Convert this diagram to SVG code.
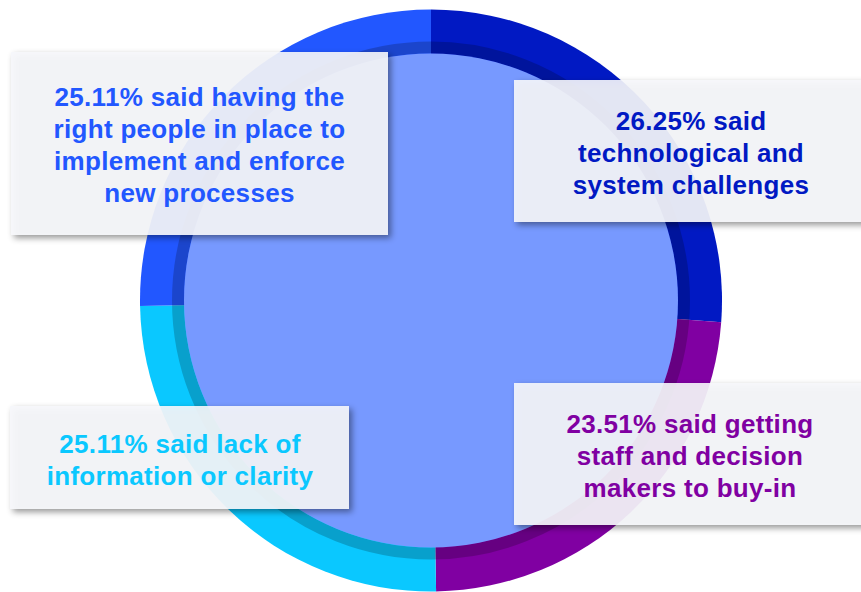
<svg xmlns="http://www.w3.org/2000/svg" width="861" height="592" viewBox="0 0 861 592">
  <defs>
    <filter id="shadow" x="-10%" y="-10%" width="125%" height="130%">
      <feDropShadow dx="3" dy="3" stdDeviation="3" flood-color="#000" flood-opacity="0.45"/>
    </filter>
    <style>
      .box { fill: #F6F7FB; fill-opacity: 0.9; filter: url(#shadow); }
      .lbl { font-family: "Liberation Sans", Arial, sans-serif; font-weight: bold; font-size: 26px; letter-spacing: 0.3px; text-anchor: middle; }
    </style>
  </defs>
  <rect width="861" height="592" fill="#FFFFFF"/>
  <g id="ring">
    <path d="M431 300.5 L431 9.5 A291 291 0 0 1 721.2 322.3 Z" fill="#0119C3"/>
    <path d="M431 300.5 L721.2 322.3 A291 291 0 0 1 436.1 591.5 Z" fill="#8000A2"/>
    <path d="M431 300.5 L436.1 591.5 A291 291 0 0 1 140.05 306.1 Z" fill="#0AC8FF"/>
    <path d="M431 300.5 L140.05 306.1 A291 291 0 0 1 431 9.5 Z" fill="#2257FF"/>
    <circle cx="431" cy="300.5" r="253" fill="none" stroke="#000" stroke-opacity="0.2" stroke-width="12"/>
    <circle cx="431" cy="300.5" r="247" fill="#7799FF"/>
  </g>
  <g id="node-people">
    <rect class="box" x="11" y="52" width="377" height="183"/>
    <text class="lbl" fill="#2257FF"><tspan x="199.5" y="106">25.11% said having the</tspan><tspan x="199.5" y="138">right people in place to</tspan><tspan x="199.5" y="170">implement and enforce</tspan><tspan x="199.5" y="202">new processes</tspan></text>
  </g>
  <g id="node-tech">
    <rect class="box" x="514" y="80" width="352" height="142"/>
    <text class="lbl" fill="#0119C3"><tspan x="691" y="130">26.25% said</tspan><tspan x="691" y="162">technological and</tspan><tspan x="691" y="194">system challenges</tspan></text>
  </g>
  <g id="node-info">
    <rect class="box" x="10" y="406" width="339" height="103"/>
    <text class="lbl" fill="#0AC8FF"><tspan x="180" y="453">25.11% said lack of</tspan><tspan x="180" y="485">information or clarity</tspan></text>
  </g>
  <g id="node-buyin">
    <rect class="box" x="514" y="383" width="352" height="142"/>
    <text class="lbl" fill="#8000A2"><tspan x="690" y="433">23.51% said getting</tspan><tspan x="690" y="465">staff and decision</tspan><tspan x="690" y="497">makers to buy-in</tspan></text>
  </g>
  <g id="connectors"/>
</svg>
